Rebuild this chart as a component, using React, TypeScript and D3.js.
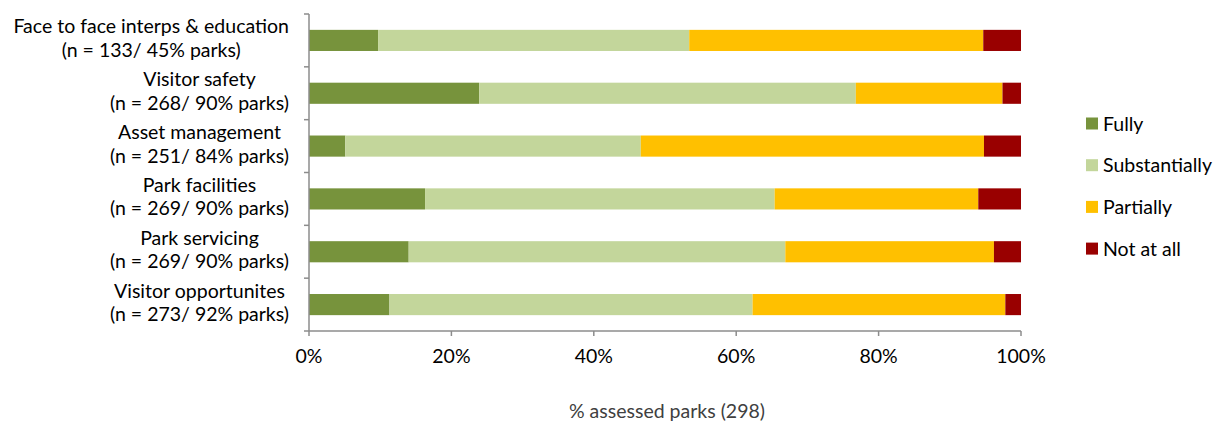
import React, { useEffect, useRef } from "react";
import * as d3 from "d3";

const categories = [
  ["Face to face interps & education", "(n = 133/ 45% parks)"],
  ["Visitor safety", "(n = 268/ 90% parks)"],
  ["Asset management", "(n = 251/ 84% parks)"],
  ["Park facilities", "(n = 269/ 90% parks)"],
  ["Park servicing", "(n = 269/ 90% parks)"],
  ["Visitor opportunites", "(n = 273/ 92% parks)"],
];
const seriesNames = ["Fully", "Substantially", "Partially", "Not at all"];
const fully = [9.7, 23.9, 5.1, 16.3, 14.0, 11.3];
const substantially = [43.7, 52.9, 41.5, 49.1, 52.9, 51.0];
const partially = [41.3, 20.6, 48.2, 28.6, 29.3, 35.5];
const notAtAll = [5.3, 2.6, 5.2, 6.0, 3.8, 2.2];
const xTicks = [0, 20, 40, 60, 80, 100];
const colors = ["#77933C", "#C3D69B", "#FFC000", "#990000"];
const xTitle = "% assessed parks (298)";

const W = 1219;
const H = 421;
const FONT = "Lato, 'Open Sans', sans-serif";
const FS = 19.5;

export default function App() {
  const ref = useRef<SVGSVGElement>(null);
  useEffect(() => {
    const svg = d3.select(ref.current);
    svg.selectAll("*").remove();
    const left = 309, right = 1021, top = 14, bottom = 331;
    const x = d3.scaleLinear().domain([0, 100]).range([left, right]);
    const y = d3
      .scaleBand<number>()
      .domain(categories.map((_, i) => i))
      .range([top, bottom])
      .paddingInner(0.6)
      .paddingOuter(0.3);
    const seriesVals = [fully, substantially, partially, notAtAll];
    const rows = categories.map((_, i) => {
      const o: any = { i };
      seriesNames.forEach((s, k) => (o[s] = seriesVals[k][i]));
      return o;
    });
    const stack = d3.stack<any>().keys(seriesNames)(rows);
    stack.forEach((layer, k) => {
      svg
        .append("g")
        .selectAll("rect")
        .data(layer)
        .join("rect")
        .attr("x", (d) => x(d[0]))
        .attr("width", (d) => x(d[1]) - x(d[0]))
        .attr("y", (d) => y(d.data.i)!)
        .attr("height", y.bandwidth())
        .attr("fill", colors[k]);
    });

    const axisColor = "#8c8c8c";
    svg.append("line").attr("x1", left).attr("x2", left).attr("y1", top).attr("y2", bottom)
      .attr("stroke", axisColor).attr("stroke-width", 1.5);
    const step = (bottom - top) / categories.length;
    for (let i = 0; i <= categories.length; i++) {
      const yy = top + i * step;
      svg.append("line").attr("x1", left - 5).attr("x2", left).attr("y1", yy).attr("y2", yy)
        .attr("stroke", axisColor).attr("stroke-width", 1.5);
    }
    svg.append("line").attr("x1", left).attr("x2", right).attr("y1", bottom).attr("y2", bottom)
      .attr("stroke", axisColor).attr("stroke-width", 1.5);
    xTicks.forEach((t) => {
      svg.append("line").attr("x1", x(t)).attr("x2", x(t)).attr("y1", bottom).attr("y2", bottom + 5)
        .attr("stroke", axisColor).attr("stroke-width", 1.5);
      svg.append("text").attr("x", x(t)).attr("y", 363)
        .attr("text-anchor", "middle").attr("font-family", FONT).attr("font-size", FS)
        .attr("fill", "#000").text(t + "%");
    });
    svg.append("text").attr("x", (left + right) / 2 + 2).attr("y", 418)
      .attr("text-anchor", "middle").attr("font-family", FONT).attr("font-size", FS)
      .attr("fill", "#404040").text(xTitle);

    const labelRight = 289;
    categories.forEach((lines, i) => {
      const cy = y(i)! + y.bandwidth() / 2;
      const g = svg.append("g");
      const texts = lines.map((l, j) =>
        g.append("text").attr("y", cy + (j === 0 ? -7 : 16.5))
          .attr("text-anchor", "middle").attr("font-family", FONT).attr("font-size", FS)
          .attr("fill", "#000").text(l)
      );
      const widths = texts.map((t) => (t.node() as SVGTextElement).getComputedTextLength());
      const maxW = Math.max(...widths);
      texts.forEach((t) => t.attr("x", labelRight - maxW / 2));
    });

    seriesNames.forEach((s, k) => {
      const cy = 123.5 + k * 41.7;
      svg.append("rect").attr("x", 1086).attr("y", cy - 6).attr("width", 12).attr("height", 12)
        .attr("fill", colors[k]);
      svg.append("text").attr("x", 1103).attr("y", cy + 7)
        .attr("font-family", FONT).attr("font-size", FS).attr("fill", "#000").text(s);
    });
  }, []);
  return (
    <svg ref={ref} width={W} height={H} style={{ position: "absolute", left: 0, top: 0 }} />
  );
}
